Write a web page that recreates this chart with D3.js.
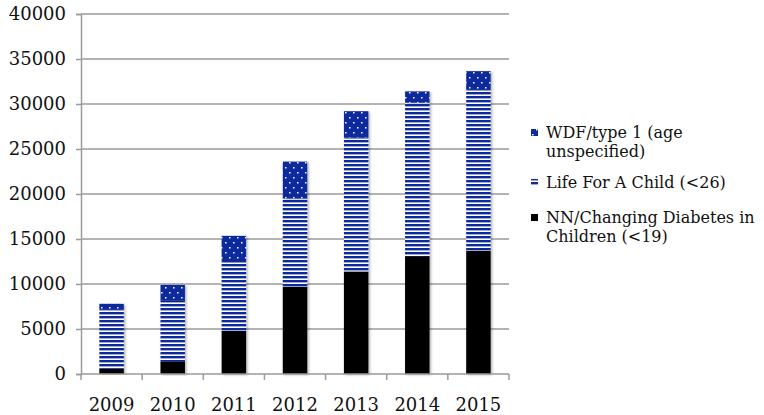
<!DOCTYPE html>
<html>
<head>
<meta charset="utf-8">
<script src="https://cdn.jsdelivr.net/npm/d3@7"></script>
<style>
  body { margin: 0; background: #fff; }
  text { font-family: "DejaVu Serif", serif; fill: #111; }
</style>
</head>
<body>
<svg id="chart"></svg>
<script>
const years = ["2009", "2010", "2011", "2012", "2013", "2014", "2015"];
const nnChanging = [600, 1400, 4800, 9700, 11400, 13100, 13700];
const lifeForAChild = [6600, 6800, 7750, 9800, 14900, 17050, 17950];
const wdfType1 = [600, 1700, 2800, 4100, 2900, 1250, 2000];
const yTicks = [0, 5000, 10000, 15000, 20000, 25000, 30000, 35000, 40000];
const seriesNames = ["NN/Changing Diabetes in Children (<19)", "Life For A Child (<26)", "WDF/type 1 (age unspecified)"];

const width = 764;
const height = 415;
const navy = "#0f2a9c";

const svg = d3.select("#chart").attr("width", width).attr("height", height);

const defs = svg.append("defs");

const stripes = defs.append("pattern")
  .attr("id", "stripes")
  .attr("patternUnits", "userSpaceOnUse")
  .attr("width", 8).attr("height", 4);
stripes.append("rect").attr("width", 8).attr("height", 4).attr("fill", "#fff");
stripes.append("rect").attr("y", 0).attr("width", 8).attr("height", 2.4).attr("fill", navy);

const dots = defs.append("pattern")
  .attr("id", "dots")
  .attr("patternUnits", "userSpaceOnUse")
  .attr("width", 8).attr("height", 10);
dots.append("rect").attr("width", 8).attr("height", 10).attr("fill", navy);
dots.append("rect").attr("x", 1).attr("y", 2).attr("width", 1.5).attr("height", 1.5).attr("fill", "#fff");
dots.append("rect").attr("x", 5).attr("y", 7).attr("width", 1.5).attr("height", 1.5).attr("fill", "#fff");

const shadow = defs.append("filter").attr("id", "shadow")
  .attr("x", "-20%").attr("y", "-5%").attr("width", "150%").attr("height", "115%");
shadow.append("feDropShadow")
  .attr("dx", 1.5).attr("dy", 1).attr("stdDeviation", 1.2)
  .attr("flood-color", "#000").attr("flood-opacity", 0.3);

const fills = ["#000", "url(#stripes)", "url(#dots)"];

const table = years.map((y, i) => ({
  year: y,
  nn: nnChanging[i],
  life: lifeForAChild[i],
  wdf: wdfType1[i]
}));
const stack = d3.stack().keys(["nn", "life", "wdf"])(table);

const plot = { left: 81, right: 509, top: 14, bottom: 374 };

const x = d3.scaleBand().domain(years).range([plot.left, plot.right]).paddingInner(0.6).paddingOuter(0.3);
const xTickScale = d3.scaleLinear().domain([0, years.length]).range([plot.left, plot.right]);
const y = d3.scaleLinear().domain([0, 40000]).range([plot.bottom, plot.top]);

// grid lines
svg.append("g")
  .selectAll("line")
  .data(yTicks.slice(1))
  .enter()
  .append("line")
  .attr("x1", plot.left).attr("x2", plot.right)
  .attr("y1", (d) => y(d)).attr("y2", (d) => y(d))
  .attr("stroke", "#9a9a9a").attr("stroke-width", 1.5);

// bars
svg.append("g")
  .selectAll("g")
  .data(stack)
  .enter()
  .append("g")
  .attr("fill", (d, i) => fills[i])
  .selectAll("rect")
  .data((d) => d)
  .enter()
  .append("rect")
  .attr("x", (d) => x(d.data.year))
  .attr("y", (d) => y(d[1]))
  .attr("width", x.bandwidth())
  .attr("height", (d) => y(d[0]) - y(d[1]))
  .attr("filter", "url(#shadow)");

// y axis
const yAxis = d3.axisLeft(y).tickValues(yTicks).tickSize(5).tickPadding(10).tickFormat(d3.format("d"));
const gy = svg.append("g").attr("transform", `translate(${plot.left},0)`).call(yAxis);
gy.select(".domain").attr("stroke", "#9a9a9a").attr("stroke-width", 1.5);
gy.selectAll(".tick line").attr("stroke", "#9a9a9a").attr("stroke-width", 1.5);
gy.selectAll(".tick text").style("font-size", "18px").style("font-family", "DejaVu Serif").attr("fill", "#111");

// x axis
const gx = svg.append("g").attr("transform", `translate(0,${plot.bottom})`);
gx.append("line")
  .attr("x1", plot.left).attr("x2", plot.right)
  .attr("stroke", "#9a9a9a").attr("stroke-width", 1.5);
gx.selectAll(".xt")
  .data(d3.range(years.length + 1))
  .enter()
  .append("line")
  .attr("class", "xt")
  .attr("x1", (d) => xTickScale(d)).attr("x2", (d) => xTickScale(d))
  .attr("y1", 0).attr("y2", 6)
  .attr("stroke", "#9a9a9a").attr("stroke-width", 1.5);
gx.selectAll("text")
  .data(years)
  .enter()
  .append("text")
  .attr("x", (d) => x(d) + x.bandwidth() / 2)
  .attr("y", 37)
  .attr("text-anchor", "middle")
  .style("font-size", "18px")
  .text((d) => d);

// legend
const legendItems = [
  { fill: fills[2], lines: ["WDF/type 1 (age", "unspecified)"], y: 132 },
  { fill: fills[1], lines: ["Life For A Child (<26)"], y: 182 },
  { fill: fills[0], lines: ["NN/Changing Diabetes in", "Children (<19)"], y: 217 }
];

const legend = svg.append("g");
const item = legend.selectAll("g")
  .data(legendItems)
  .enter()
  .append("g")
  .attr("transform", (d) => `translate(531,${d.y})`);

item.append("rect")
  .attr("x", 0).attr("y", -3)
  .attr("width", 7).attr("height", 7)
  .attr("fill", (d) => d.fill);

item.append("text")
  .attr("x", 15)
  .attr("y", 6)
  .style("font-size", "16px")
  .selectAll("tspan")
  .data((d) => d.lines)
  .enter()
  .append("tspan")
  .attr("x", 15)
  .attr("dy", (d, i) => (i === 0 ? 0 : 19))
  .text((d) => d);
</script>
</body>
</html>
